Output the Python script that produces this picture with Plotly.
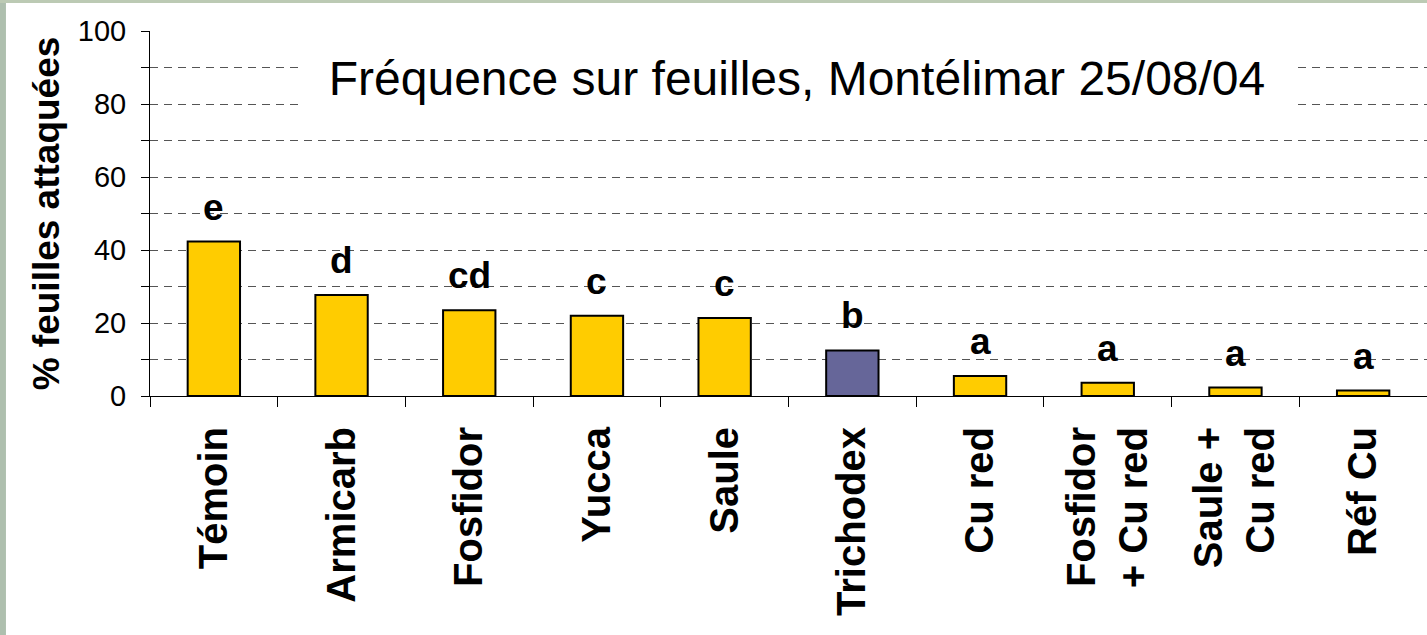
import plotly.graph_objects as go

categories = ["Témoin", "Armicarb", "Fosfidor", "Yucca", "Saule", "Trichodex",
              "Cu red", "Fosfidor<br>+ Cu red", "Saule +<br>Cu red", "Réf Cu"]
values = [42.3, 27.7, 23.5, 22.0, 21.4, 12.5, 5.5, 3.6, 2.3, 1.5]
letters = ["e", "d", "cd", "c", "c", "b", "a", "a", "a", "a"]
bar_colors = ["#FFCC00"] * 5 + ["#666699"] + ["#FFCC00"] * 4
title_text = "Fréquence sur feuilles, Montélimar 25/08/04"
y_title = "% feuilles attaquées"

FONT = "Liberation Sans, Arial, sans-serif"

fig = go.Figure()
fig.add_trace(go.Bar(
    x=categories, y=values, width=0.41,
    marker=dict(color=bar_colors, line=dict(color="black", width=2)),
    hoverinfo="x+y", showlegend=False,
))

for c, v, l in zip(categories, values, letters):
    fig.add_annotation(x=c, y=v, xref="x", yref="y", text=l, showarrow=False,
                       yanchor="bottom", yshift=12,
                       font=dict(family=FONT, size=37, color="black", weight="bold"))

fig.add_annotation(x=0.507, y=0.871, xref="paper", yref="paper", text=title_text,
                   showarrow=False, xanchor="center", yanchor="middle",
                   bgcolor="white", width=990, height=70,
                   font=dict(family=FONT, size=48, color="black"))

# decorative background strips at the left and top edges
fig.add_shape(type="rect", xref="paper", yref="paper", x0=-0.1175, x1=-0.1128,
              y0=-0.66, y1=1.09, fillcolor="#aebfae", line=dict(width=0), layer="below")
fig.add_shape(type="rect", xref="paper", yref="paper", x0=-0.1175, x1=1.0,
              y0=1.0767, y1=1.09, fillcolor="#bccab4", line=dict(width=0), layer="below")

fig.update_layout(
    width=1427, height=635,
    margin=dict(l=150, r=0, t=31, b=239),
    paper_bgcolor="white", plot_bgcolor="white",
    font=dict(family=FONT, color="black"),
    bargap=0.59,
    xaxis=dict(
        type="category", tickson="boundaries", ticks="outside", ticklen=10,
        tickcolor="black", tickwidth=1, showline=True, linecolor="black", linewidth=1,
        tickangle=-90, showgrid=False, ticklabelstandoff=14, automargin=False,
        tickfont=dict(family=FONT, size=40, color="black", weight="bold"),
        range=[-0.5, 9.5],
    ),
    yaxis=dict(
        range=[0, 100], dtick=20, tick0=0, ticks="outside", ticklen=8,
        tickcolor="black", showline=True, linecolor="black", linewidth=1,
        zeroline=False, showgrid=True, gridcolor="#555555", griddash="8px,6px", gridwidth=1,
        tickfont=dict(family=FONT, size=29, color="black"),
        ticklabelstandoff=9, automargin=False,
        minor=dict(dtick=10, ticks="outside", ticklen=8, tickcolor="black",
                   showgrid=True, gridcolor="#555555", griddash="8px,6px", gridwidth=1),
        title=dict(text=y_title, standoff=6,
                   font=dict(family=FONT, size=37, color="black", weight="bold")),
    ),
)

fig.write_html("out.html", config={"displayModeBar": False},
               post_script="document.body.style.margin='0';document.body.style.overflow='hidden';")
